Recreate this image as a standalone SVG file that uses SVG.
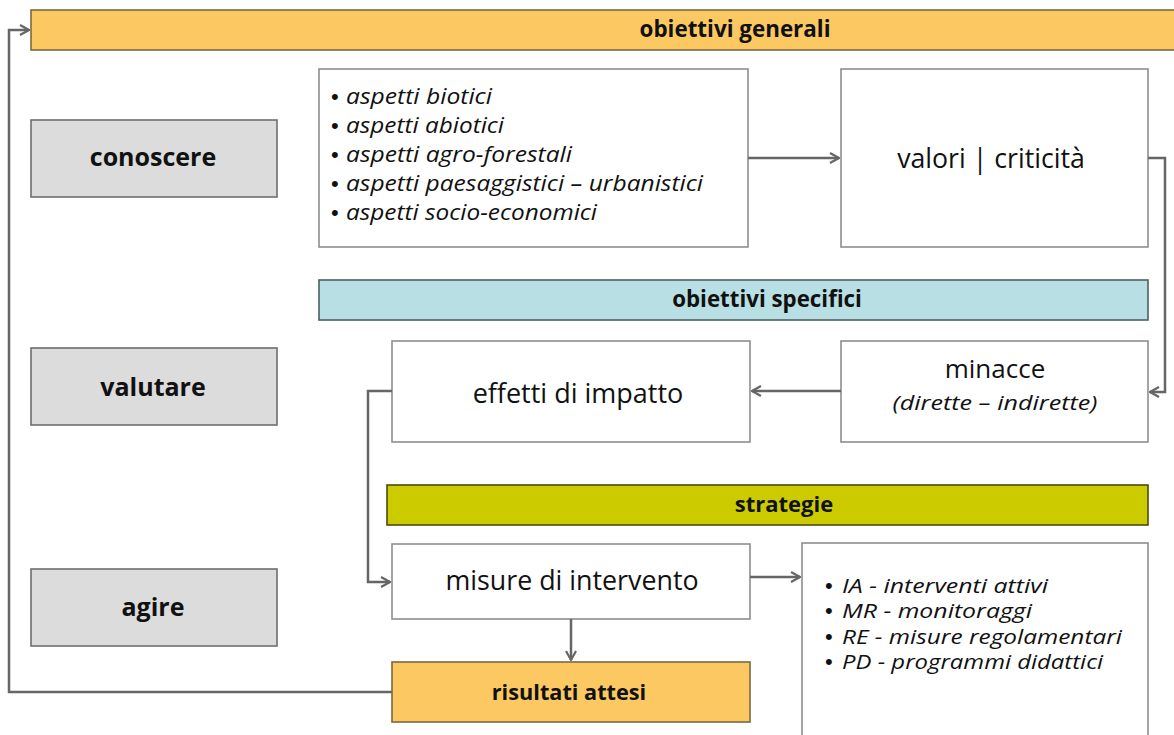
<svg xmlns="http://www.w3.org/2000/svg" width="1174" height="735" viewBox="0 0 1174 735">
<defs>
<style>
.box{fill:#ffffff;stroke:#8e8e8e;stroke-width:1.6}
.gray{fill:#dcdcdc;stroke:#6e6e6e;stroke-width:1.6}
.orange{fill:#fbc862;stroke:#7a6a40;stroke-width:1.6}
.blue{fill:#b8dfe3;stroke:#4f5f62;stroke-width:1.6}
.olive{fill:#cbcb00;stroke:#4a4a10;stroke-width:1.6}
.t{font-family:"Open Sans","Liberation Sans",sans-serif;fill:#111}
.b{font-weight:bold}
.i{font-style:italic}
.bul{font-family:"Liberation Sans",sans-serif;font-size:22px;fill:#111}
.conn{fill:none;stroke:#666;stroke-width:2.5}
</style>
<marker id="arr" viewBox="0 0 12 12" refX="11" refY="6" markerWidth="12" markerHeight="12" markerUnits="userSpaceOnUse" orient="auto">
<path d="M2,1 L11,6 L2,11" fill="none" stroke="#666" stroke-width="2.2"/>
</marker>
</defs>
<rect width="1174" height="735" fill="#ffffff"/>

<g id="obiettivi-generali">
<rect class="orange" x="31" y="10" width="1150" height="40"/>
<text class="t b" x="735" y="37" font-size="22.4" text-anchor="middle">obiettivi generali</text>
</g>

<g id="conoscere">
<rect class="gray" x="31" y="120" width="246" height="77"/>
<text class="t b" x="153" y="166" font-size="25" text-anchor="middle">conoscere</text>
</g>
<g id="valutare">
<rect class="gray" x="31" y="348" width="246" height="77"/>
<text class="t b" x="153" y="396" font-size="25" text-anchor="middle">valutare</text>
</g>
<g id="agire">
<rect class="gray" x="31" y="569" width="246" height="77"/>
<text class="t b" x="153" y="616" font-size="25" text-anchor="middle">agire</text>
</g>

<g id="aspetti">
<rect class="box" x="319" y="69" width="429" height="178"/>
<text class="bul" x="331" y="104">•</text>
<text class="t i" x="346" y="104" font-size="22" textLength="146" lengthAdjust="spacingAndGlyphs">aspetti biotici</text>
<text class="bul" x="331" y="133">•</text>
<text class="t i" x="346" y="133" font-size="22" textLength="158" lengthAdjust="spacingAndGlyphs">aspetti abiotici</text>
<text class="bul" x="331" y="162">•</text>
<text class="t i" x="346" y="162" font-size="22" textLength="226" lengthAdjust="spacingAndGlyphs">aspetti agro-forestali</text>
<text class="bul" x="331" y="191">•</text>
<text class="t i" x="346" y="191" font-size="22" textLength="357" lengthAdjust="spacingAndGlyphs">aspetti paesaggistici – urbanistici</text>
<text class="bul" x="331" y="220">•</text>
<text class="t i" x="346" y="220" font-size="22" textLength="251" lengthAdjust="spacingAndGlyphs">aspetti socio-economici</text>
</g>

<g id="valori">
<rect class="box" x="841" y="69" width="307" height="178"/>
<text class="t" x="991" y="168" font-size="26.7" text-anchor="middle">valori | criticità</text>
</g>

<g id="obiettivi-specifici">
<rect class="blue" x="319" y="280" width="829" height="40"/>
<text class="t b" x="767" y="307" font-size="22.3" text-anchor="middle">obiettivi specifici</text>
</g>

<g id="effetti">
<rect class="box" x="392" y="341" width="358" height="101"/>
<text class="t" x="578" y="403" font-size="27" text-anchor="middle">effetti di impatto</text>
</g>

<g id="minacce">
<rect class="box" x="841" y="341" width="307" height="101"/>
<text class="t" x="995" y="378" font-size="26" text-anchor="middle">minacce</text>
<text class="t i" x="995" y="410" font-size="20" text-anchor="middle" textLength="205" lengthAdjust="spacingAndGlyphs">(dirette – indirette)</text>
</g>

<g id="strategie">
<rect class="olive" x="387" y="485" width="761" height="40"/>
<text class="t b" x="784" y="512" font-size="22" text-anchor="middle">strategie</text>
</g>

<g id="misure">
<rect class="box" x="392" y="544" width="358" height="75"/>
<text class="t" x="572" y="590" font-size="26.8" text-anchor="middle">misure di intervento</text>
</g>

<g id="interventi">
<rect class="box" x="802" y="543" width="346" height="200"/>
<text class="bul" x="825" y="593">•</text>
<text class="t i" x="842" y="593" font-size="20" textLength="206" lengthAdjust="spacingAndGlyphs">IA - interventi attivi</text>
<text class="bul" x="825" y="618">•</text>
<text class="t i" x="842" y="618" font-size="20" textLength="190" lengthAdjust="spacingAndGlyphs">MR - monitoraggi</text>
<text class="bul" x="825" y="644">•</text>
<text class="t i" x="842" y="644" font-size="20" textLength="280" lengthAdjust="spacingAndGlyphs">RE - misure regolamentari</text>
<text class="bul" x="825" y="669">•</text>
<text class="t i" x="842" y="669" font-size="20" textLength="261" lengthAdjust="spacingAndGlyphs">PD - programmi didattici</text>
</g>

<g id="risultati">
<rect class="orange" x="392" y="662" width="358" height="60"/>
<text class="t b" x="569" y="700" font-size="21.7" text-anchor="middle">risultati attesi</text>
</g>

<g id="connectors">
<path class="conn" d="M748,158 L839,158" marker-end="url(#arr)"/>
<path class="conn" d="M1148,158 L1165,158 L1165,392 L1150,392" marker-end="url(#arr)"/>
<path class="conn" d="M841,391 L752,391" marker-end="url(#arr)"/>
<path class="conn" d="M392,391 L368,391 L368,582 L390,582" marker-end="url(#arr)"/>
<path class="conn" d="M750,577 L800,577" marker-end="url(#arr)"/>
<path class="conn" d="M571,619 L571,660" marker-end="url(#arr)"/>
<path class="conn" d="M392,692 L9,692 L9,30 L29,30" marker-end="url(#arr)"/>
</g>
</svg>
